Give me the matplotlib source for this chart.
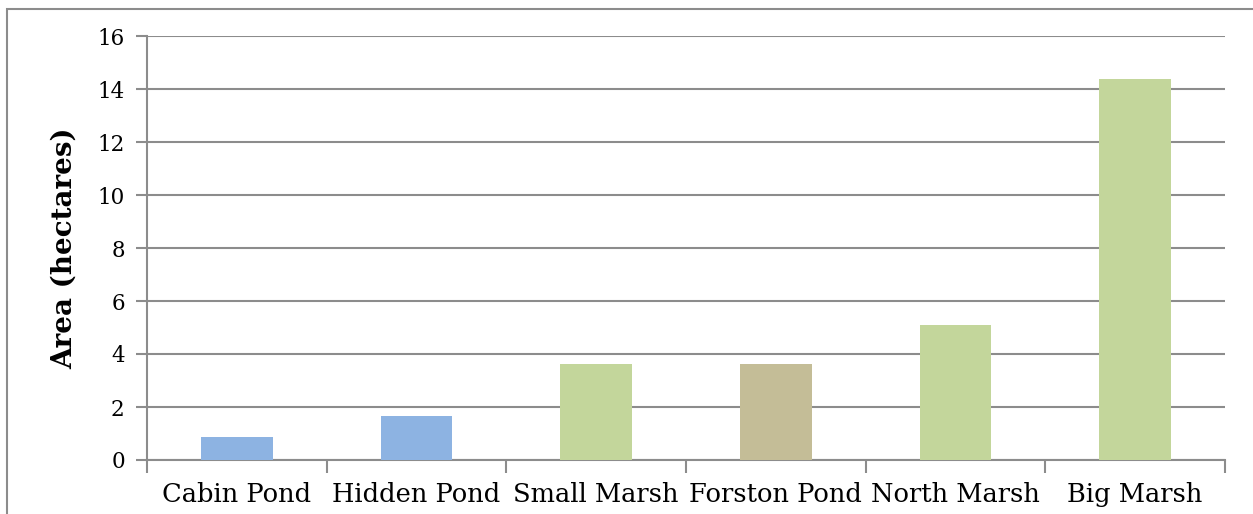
import matplotlib.pyplot as plt
from matplotlib.patches import Rectangle

sites = ["Cabin Pond", "Hidden Pond", "Small Marsh", "Forston Pond",
         "North Marsh", "Big Marsh"]
area_ha = [0.87, 1.66, 3.62, 3.62, 5.08, 14.37]
bar_colors = ["#8DB3E2", "#8DB3E2", "#C3D69B", "#C4BD97", "#C3D69B", "#C3D69B"]
yticks = [0, 2, 4, 6, 8, 10, 12, 14, 16]

plt.rcParams['font.family'] = ['DejaVu Serif']
grid_col = "#8C8C8C"

W, H = 1253, 514
fig = plt.figure(figsize=(W / 100, H / 100), dpi=100)
ax = fig.add_axes([147 / W, 1 - 460 / H, (1225 - 147) / W, (460 - 36) / H])

# outer chart border (extends past right/bottom edge like the source)
fig.patches.append(Rectangle((7 / W, -0.1), 1.2, 1 - 9 / H + 0.1,
                             transform=fig.transFigure, fill=False,
                             edgecolor=grid_col, linewidth=1.5))

x = range(len(sites))
ax.bar(x, area_ha, width=0.4, color=bar_colors, zorder=3)

ax.set_xlim(-0.5, len(sites) - 0.5)
ax.set_ylim(0, 16)
ax.set_yticks(yticks)
ax.set_yticklabels([str(v) for v in yticks], fontsize=15.5)
ax.yaxis.grid(True, color=grid_col, linewidth=1.5, zorder=0)
ax.set_axisbelow(True)

ax.set_xticks(list(x))
ax.set_xticklabels(sites, fontsize=18.5)
ax.tick_params(axis='x', length=0, pad=16)
ax.set_xticks([i - 0.5 for i in range(len(sites) + 1)], minor=True)
ax.tick_params(axis='x', which='minor', length=9, width=1.5, color=grid_col)
ax.tick_params(axis='y', length=8, width=1.5, color=grid_col, pad=8)

for side in ["top", "right"]:
    ax.spines[side].set_visible(False)
for side in ["left", "bottom"]:
    ax.spines[side].set_color(grid_col)
    ax.spines[side].set_linewidth(1.5)

ax.set_ylabel("Area (hectares)", fontsize=20, fontweight="bold", labelpad=14)

fig.savefig("out.png", dpi=100)
